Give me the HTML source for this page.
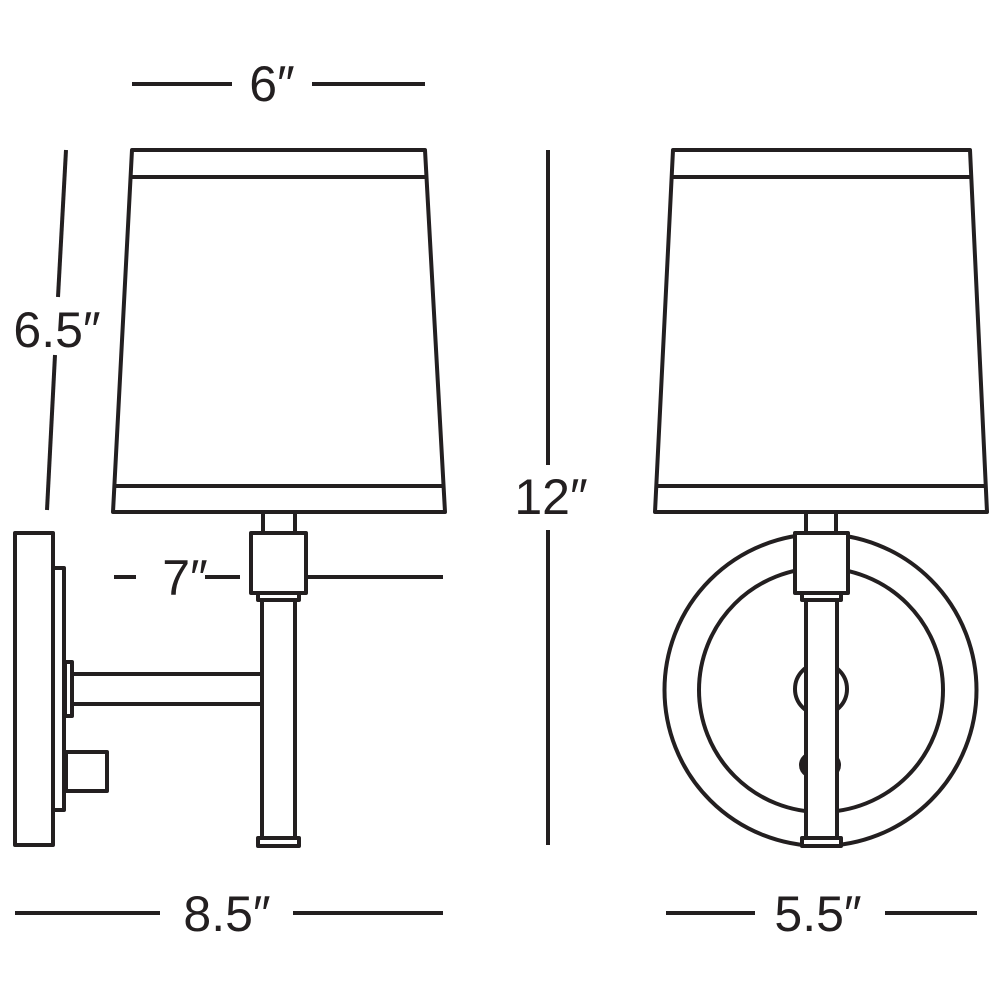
<!DOCTYPE html>
<html><head><style>html,body{margin:0;padding:0;background:#fff}svg{display:block}</style></head>
<body>
<svg width="1000" height="1000" viewBox="0 0 1000 1000" xmlns="http://www.w3.org/2000/svg">
<g fill="none" stroke="#231f20" stroke-width="4" stroke-linejoin="round">
<line x1="132" y1="84" x2="232" y2="84"/><line x1="312" y1="84" x2="425" y2="84"/>
<line x1="66" y1="150" x2="58" y2="297"/><line x1="55" y1="355" x2="47" y2="510"/>
<line x1="548" y1="150" x2="548" y2="465"/><line x1="548" y1="530" x2="548" y2="845"/>
<line x1="15" y1="913" x2="160" y2="913"/><line x1="293" y1="913" x2="443" y2="913"/>
<line x1="666" y1="913" x2="755" y2="913"/><line x1="885" y1="913" x2="977" y2="913"/>
<line x1="114" y1="577" x2="136" y2="577"/><line x1="205" y1="577" x2="240" y2="577"/><line x1="306" y1="577" x2="443" y2="577"/>
<polygon points="132,150 425,150 445,512 113,512"/>
<line x1="131" y1="177" x2="426" y2="177"/><line x1="115" y1="486" x2="443" y2="486"/>
<rect x="15" y="533" width="38" height="312"/>
<rect x="53" y="568" width="11" height="242"/>
<rect x="65" y="662" width="7" height="54"/>
<rect x="72" y="674" width="190" height="30"/>
<rect x="66" y="752" width="41" height="39"/>
<rect x="263" y="512" width="32" height="21"/>
<rect x="262" y="596" width="33" height="244"/>
<rect x="258" y="593" width="41" height="7" fill="#fff"/>
<rect x="258" y="838" width="41" height="8" fill="#fff"/>
<rect x="251" y="533" width="55" height="60" fill="#fff"/>
<polygon points="673,150 970,150 987,512 655,512"/>
<line x1="672" y1="177" x2="971" y2="177"/><line x1="656" y1="486" x2="986" y2="486"/>
<circle cx="820.5" cy="690" r="156"/>
<circle cx="821" cy="690" r="122"/>
<circle cx="821" cy="689" r="26"/>
<ellipse cx="820" cy="765" rx="19" ry="14" fill="#231f20"/>
<rect x="806" y="512" width="30" height="21" fill="#fff"/>
<rect x="806" y="596" width="31" height="247" fill="#fff"/>
<rect x="802" y="593" width="39" height="7" fill="#fff"/>
<rect x="802" y="838" width="39" height="8" fill="#fff"/>
<rect x="795" y="533" width="53" height="60" fill="#fff"/>
</g>
<g fill="#231f20" font-family="Liberation Sans, sans-serif" font-size="50">
<text x="272" y="101" text-anchor="middle">6″</text>
<text x="57" y="347" text-anchor="middle">6.5″</text>
<text x="551" y="514" text-anchor="middle">12″</text>
<text x="185" y="595" text-anchor="middle">7″</text>
<text x="227" y="931" text-anchor="middle">8.5″</text>
<text x="818" y="931" text-anchor="middle">5.5″</text>
</g>
</svg>
</body></html>
